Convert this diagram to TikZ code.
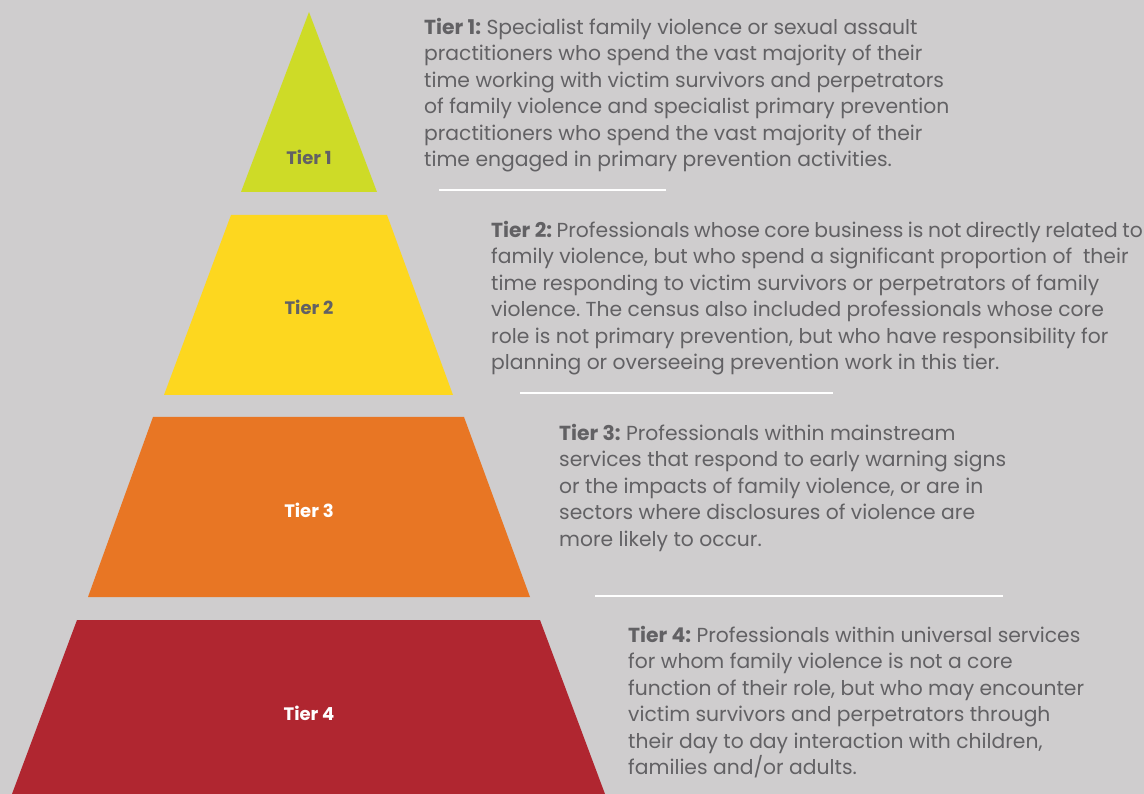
\documentclass[tikz,border=0pt]{standalone}
\usepackage{fontspec}
\setmainfont{Poppins}
\usepackage{tikz}
\usetikzlibrary{
	positioning
}
\frenchspacing

\definecolor{paper}{RGB}{207,205,206}
\definecolor{ink}{RGB}{98,97,100}
\definecolor{lime}{RGB}{206,219,39}
\definecolor{sun}{RGB}{253,215,31}
\definecolor{carrot}{RGB}{232,118,36}
\definecolor{brick}{RGB}{176,38,48}

\newcommand{\tightwords}{\spaceskip=0.22em plus 0.05em\relax}

\tikzset{
	level/.style={font=\bfseries\fontsize{18}{20}\selectfont},
	blurb/.style={anchor=north west,align=left,inner sep=0pt,text=ink,
		font=\fontsize{20.3}{26.5}\selectfont},
	divider/.style={draw=white,line width=2.5pt}
}

\begin{document}
\begin{tikzpicture}[x=1pt,y=-1pt]
		\useasboundingbox (0,0) rectangle (1144,794);
		\fill[paper] (0,0) rectangle (1144,794);

		% the four layers of the pyramid
		\fill[lime]   (309,12)  -- (377,192) -- (241,192) -- cycle;
		\fill[sun]    (231,215) -- (387,215) -- (453,395) -- (164,395) -- cycle;
		\fill[carrot] (153,417) -- (464,417) -- (530,597) -- (88,597)  -- cycle;
		\fill[brick]  (77,620)  -- (540,620) -- (605,794) -- (12,794)  -- cycle;

		\draw
			node [level,text=ink]   (l1) at (309,157) {Tier 1}
			node [level,text=ink]   (l2) at (309,307) {Tier 2}
			node [level,text=white] (l3) at (309,510) {Tier 3}
			node [level,text=white] (l4) at (309,713) {Tier 4}
		;

		% descriptions
		\node [blurb] (d1) at (424,18) {\textbf{Tier 1:} Specialist family violence or sexual assault\\
			practitioners who spend the vast majority of their\\
			time working with victim survivors and perpetrators\\
			of family violence and specialist primary prevention\\
			practitioners who spend the vast majority of their\\
			time engaged in primary prevention activities.};
		\node [blurb] (d2) at (491,221) {\tightwords\textbf{Tier 2:} Professionals whose core business is not directly related to\\
			family violence, but who spend a significant proportion of \ their\\
			time responding to victim survivors or perpetrators of family\\
			violence. The census also included professionals whose core\\
			role is not primary prevention, but who have responsibility for\\
			planning or overseeing prevention work in this tier.};
		\node [blurb] (d3) at (559,424) {\textbf{Tier 3:} Professionals within mainstream\\
			services that respond to early warning signs\\
			or the impacts of family violence, or are in\\
			sectors where disclosures of violence are\\
			more likely to occur.};
		\node [blurb] (d4) at (628,626) {\textbf{Tier 4:} Professionals within universal services\\
			for whom family violence is not a core\\
			function of their role, but who may encounter\\
			victim survivors and perpetrators through\\
			their day to day interaction with children,\\
			families and/or adults.};

		% white rules between the descriptions
		\draw[divider] (439,190) -- (666,190);
		\draw[divider] (520,393) -- (833,393);
		\draw[divider] (595,596) -- (1003,596);
\end{tikzpicture}
\end{document}
